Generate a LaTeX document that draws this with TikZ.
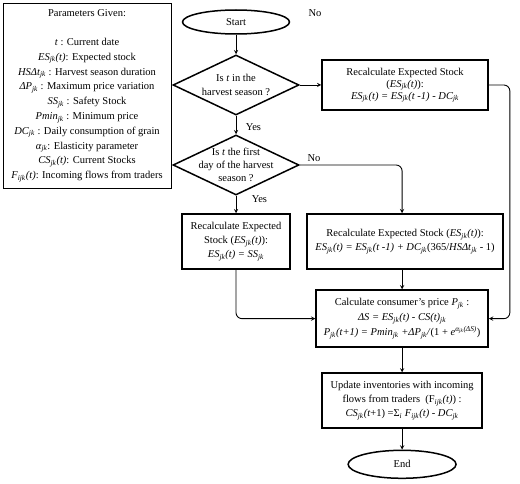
\documentclass[tikz,border=0pt]{standalone}
\usepackage{fontspec}
\setmainfont{Liberation Serif}
\usepackage{tikz}
\usetikzlibrary{shapes.geometric, positioning}
\newcommand{\lowsub}[1]{\textsubscript{\textit{#1}}}
\tikzstyle{startstop} = [ellipse, minimum width=107pt, minimum height=24pt, inner sep=0pt, text centered, draw=black, line width=1.5pt]
\tikzstyle{decision} = [diamond, minimum width=126pt, minimum height=60pt, inner sep=0pt, draw=black, line width=1.5pt]
\tikzstyle{process} = [rectangle, inner sep=1pt, text centered, align=center, draw=black, line width=1.6pt]
\tikzstyle{params} = [rectangle, minimum width=168pt, minimum height=185pt, align=center, draw=black, line width=0.6pt, font=\fontsize{10.5}{14.8}\selectfont]
\tikzstyle{arrow} = [-stealth, line width=0.9pt]

\begin{document}
\begin{tikzpicture}[x=1pt, y=-1pt, font=\fontsize{10.5}{14}\selectfont]
		\useasboundingbox (0,0) rectangle (520,484);
		\node (Params)[params] at (87,95.5){Parameters Given:\\[14.5pt]
			\textit{t} : Current date\\
			\textit{ES}\lowsub{jk}\textit{(t)}: Expected stock\\
			\textit{HSΔt}\lowsub{jk} : Harvest season duration\\
			\textit{ΔP}\lowsub{jk} : Maximum price variation\\
			\textit{SS}\lowsub{jk} : Safety Stock\\
			\textit{Pmin}\lowsub{jk} : Minimum price\\
			\textit{DC}\lowsub{jk} : Daily consumption of grain\\
			\textit{α}\lowsub{jk}: Elasticity parameter\\
			\textit{CS}\lowsub{jk}\textit{(t)}: Current Stocks\\
			\textit{F}\lowsub{ijk}\textit{(t)}: Incoming flows from traders};
		\node (Start)[startstop] at (236,22){Start};
		\node (Season)[decision, below=19.5pt of Start, label={[align=center]center:{Is \textit{t} in the\\harvest season ?}}]{};
		\node (FirstDay)[decision, below=18.5pt of Season, label={[align=center, font=\fontsize{10.5}{13}\selectfont]center:{Is \textit{t} the first\\day of the harvest\\season ?}}]{};
		\node (SafetyStock)[process, below=17.5pt of FirstDay, minimum width=108pt, minimum height=55pt]{Recalculate Expected\\Stock (\textit{ES}\lowsub{jk}\textit{(t)}):\\\textit{ES}\lowsub{jk}\textit{(t) = SS}\lowsub{jk}};
		\node (OffSeason)[process, right=21.5pt of Season, minimum width=166pt, minimum height=50pt, font=\fontsize{10.5}{12}\selectfont]{Recalculate Expected Stock\\(\textit{ES}\lowsub{jk}\textit{(t)}):\\\textit{ES}\lowsub{jk}\textit{(t) = ES}\lowsub{jk}\textit{(t -1) - DC}\lowsub{jk}};
		\node (HarvestStart)[process, right=15.5pt of SafetyStock, minimum width=196pt, minimum height=55pt]{Recalculate Expected Stock (\textit{ES}\lowsub{jk}\textit{(t)}):\\\textit{ES}\lowsub{jk}\textit{(t) = ES}\lowsub{jk}\textit{(t -1) + DC}\lowsub{jk}(365/\textit{HSΔt}\lowsub{jk} - 1)};
		\node (Price)[process, below=19.5pt of HarvestStart, xshift=-3pt, minimum width=172pt, minimum height=57pt, font=\fontsize{10.5}{15}\selectfont]{Calculate consumer's price \textit{P}\lowsub{jk} :\\\textit{ΔS = ES}\lowsub{jk}\textit{(t) - CS(t)}\lowsub{jk}\\\textit{P}\lowsub{jk}\textit{(t+1) = Pmin}\lowsub{jk} \textit{+ΔP}\lowsub{jk}\textit{/}(1 + \textit{e}\textsuperscript{\textit{α}\lowsub{jk}\textit{(ΔS)}})};
		\node (Inventory)[process, below=24.5pt of Price, minimum width=160pt, minimum height=55pt]{Update inventories with incoming\\flows from traders~ (F\lowsub{ijk}\textit{(t)}) :\\\textit{CS}\lowsub{jk}\textit{(t}+1) =Σ\lowsub{i} \textit{F}\lowsub{ijk}\textit{(t) - DC}\lowsub{jk}};
		\node (End)[startstop, below=20.5pt of Inventory, minimum width=108pt, minimum height=28pt]{End};
		\node (SeasonNo) at (315,13){No};
		\draw [arrow] (Start) -- (Season);
		\draw [arrow] (Season) -- (OffSeason);
		\draw [arrow] (Season) -- node[pos=0.6, right=6pt]{Yes} (FirstDay);
		\draw [arrow, rounded corners=6pt] (FirstDay.east) -| node[pos=0.02, above right]{No} (Price.north |- HarvestStart.north);
		\draw [arrow] (FirstDay) -- node[pos=0.2, right=12pt]{Yes} (SafetyStock);
		\draw [arrow, rounded corners=6pt] (OffSeason.east) -- ++(21pt,0) |- (Price.east);
		\draw [arrow, rounded corners=6pt] (SafetyStock.south) |- (Price.west);
		\draw [arrow] (HarvestStart.south -| Price.north) -- (Price.north);
		\draw [arrow] (Price) -- (Inventory);
		\draw [arrow] (Inventory) -- (End);
	\end{tikzpicture}
\end{document}
